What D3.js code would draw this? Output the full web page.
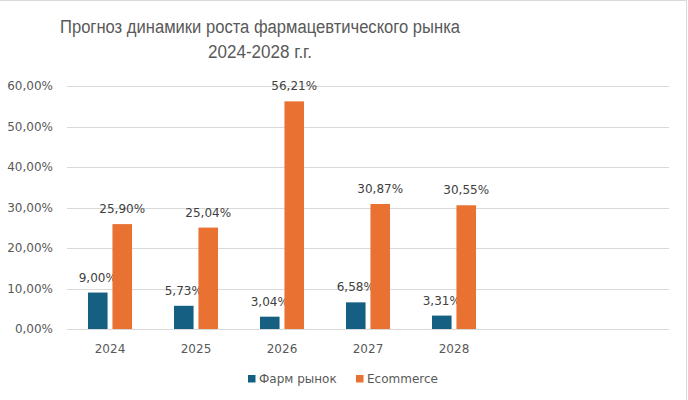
<!DOCTYPE html>
<html>
<head>
<meta charset="utf-8">
<script src="https://cdn.jsdelivr.net/npm/d3@7"></script>
<style>
  html, body { margin: 0; padding: 0; background: #fff; }
  svg { display: block; }
</style>
</head>
<body>
<div id="chart"></div>
<script>
const titleLines = ["Прогноз динамики роста фармацевтического рынка", "2024-2028 г.г."];
const categories = ["2024", "2025", "2026", "2027", "2028", "", ""];
const seriesNames = ["Фарм рынок", "Ecommerce"];
const farmValues = [9.00, 5.73, 3.04, 6.58, 3.31, null, null];
const ecomValues = [25.90, 25.04, 56.21, 30.87, 30.55, null, null];
const yTicks = [0, 10, 20, 30, 40, 50, 60];
const colors = ["#156082", "#E97132"];

const W = 688, H = 400;
const margin = { left: 67, right: 19, top: 86, bottom: 71 };
const fontFam = "'DejaVu Sans', sans-serif";
const textColor = "#595959";

const svg = d3.select("#chart").append("svg").attr("width", W).attr("height", H);

// outer border (top and right)
svg.append("line").attr("x1", 0).attr("x2", 686.5).attr("y1", 0.5).attr("y2", 0.5).attr("stroke", "#d9d9d9");
svg.append("line").attr("x1", 686.5).attr("x2", 686.5).attr("y1", 0).attr("y2", H).attr("stroke", "#d9d9d9");

const x = d3.scaleBand().domain(d3.range(categories.length)).range([margin.left, W - margin.right]).paddingInner(0).paddingOuter(0);
const xSub = d3.scaleBand().domain(seriesNames).range([x.bandwidth() * 0.244, x.bandwidth() * 0.756]).paddingInner(0.2);
const y = d3.scaleLinear().domain([0, 60]).range([H - margin.bottom, margin.top]);

const fmt = v => d3.format(".2f")(v).replace(".", ",") + "%";

// grid
const grid = svg.append("g").attr("class", "grid");
grid.selectAll("line").data(yTicks).join("line")
  .attr("x1", margin.left).attr("x2", W - margin.right)
  .attr("y1", d => Math.round(y(d)) + 0.5).attr("y2", d => Math.round(y(d)) + 0.5)
  .attr("stroke", "#d9d9d9").attr("stroke-width", 1);

// y axis
const yAxis = svg.append("g").attr("transform", `translate(${margin.left - 14},0)`)
  .call(d3.axisLeft(y).tickValues(yTicks).tickSize(0).tickPadding(0).tickFormat(fmt));
yAxis.select(".domain").remove();
yAxis.selectAll("text").attr("font-family", fontFam).attr("font-size", 12).attr("fill", textColor);

// x axis
const xAxis = svg.append("g").attr("transform", `translate(0,${H - margin.bottom})`)
  .call(d3.axisBottom(x).tickSize(0).tickPadding(15).tickFormat(i => categories[i]));
xAxis.select(".domain").remove();
xAxis.selectAll("text").attr("font-family", fontFam).attr("font-size", 12).attr("fill", textColor);

// bars
const seriesData = [farmValues, ecomValues];
seriesNames.forEach((name, si) => {
  const vals = seriesData[si].map((v, i) => ({ i, v })).filter(d => d.v != null);
  const g = svg.append("g");
  g.selectAll("rect").data(vals).join("rect")
    .attr("x", d => x(d.i) + xSub(name))
    .attr("width", xSub.bandwidth())
    .attr("y", d => y(d.v))
    .attr("height", d => y(0) - y(d.v))
    .attr("fill", colors[si]);
  g.selectAll("text").data(vals).join("text")
    .attr("x", d => x(d.i) + xSub(name) + xSub.bandwidth() / 2)
    .attr("y", d => y(d.v) - 11)
    .attr("text-anchor", "middle")
    .attr("font-family", fontFam).attr("font-size", 12).attr("fill", "#404040")
    .text(d => fmt(d.v));
});

// title
const titleLengths = [400, 104];
svg.selectAll("text.title").data(titleLines).join("text")
  .attr("class", "title")
  .attr("x", 260).attr("y", (d, i) => 33 + i * 25)
  .attr("text-anchor", "middle")
  .attr("font-family", "'Liberation Sans', Arial, sans-serif")
  .attr("font-size", 18).attr("fill", textColor)
  .attr("textLength", (d, i) => titleLengths[i])
  .attr("lengthAdjust", "spacingAndGlyphs")
  .text(d => d);

// legend
const legend = svg.append("g");
const legendX = [248, 356];
seriesNames.forEach((name, si) => {
  legend.append("rect").attr("x", legendX[si]).attr("y", 375).attr("width", 7.5).attr("height", 7.5).attr("fill", colors[si]);
  legend.append("text").attr("x", legendX[si] + 11).attr("y", 383)
    .attr("font-family", fontFam).attr("font-size", 12).attr("fill", textColor).text(name);
});
</script>
</body>
</html>
